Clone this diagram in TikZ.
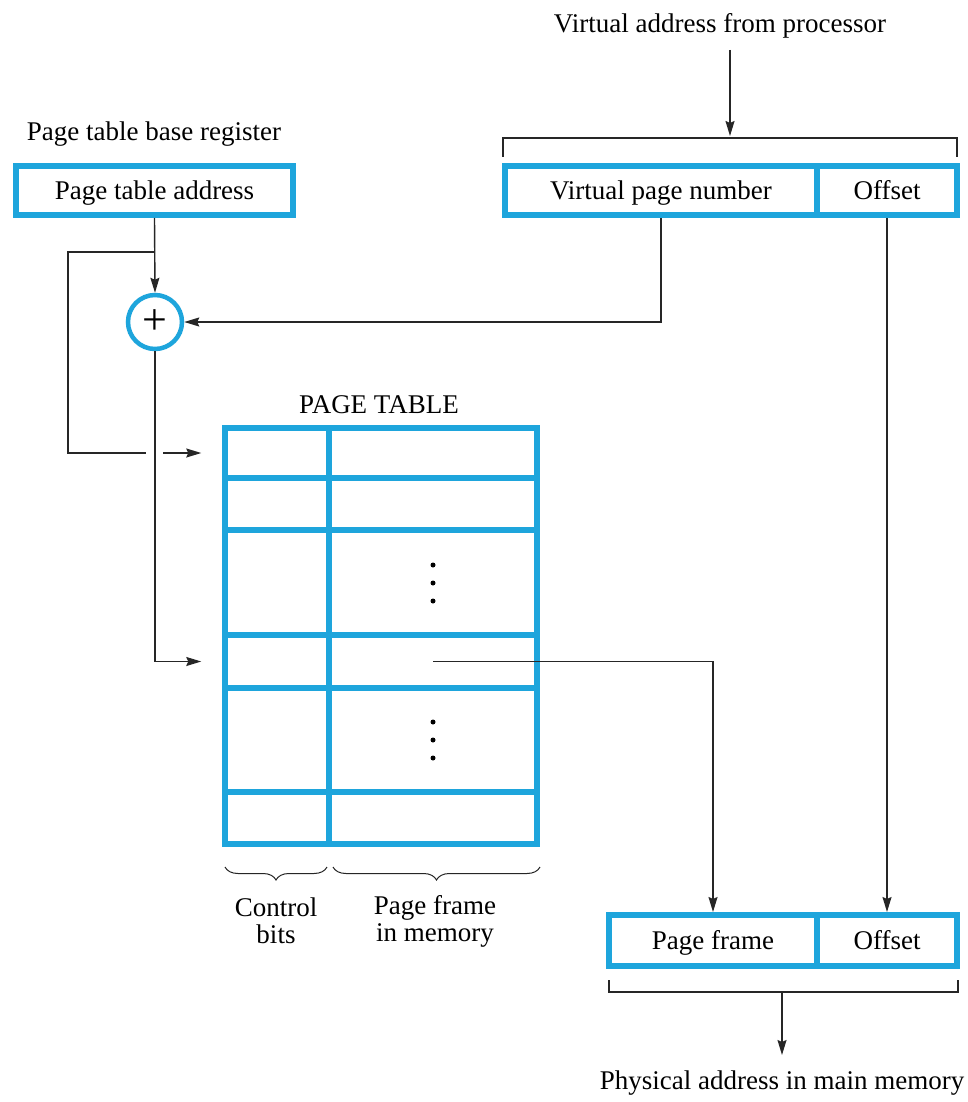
\documentclass[tikz,border=0pt]{standalone}
\usepackage{fontspec}
\setmainfont{Liberation Serif}
\usetikzlibrary{arrows.meta,decorations.pathreplacing,calc}
\definecolor{pblue}{RGB}{30,165,220}
\begin{document}
\begin{tikzpicture}[x=1pt,y=-1pt,
  every node/.style={font=\fontsize{27}{27}\selectfont, inner sep=0pt},
  onel/.style={text height=18pt, text depth=0pt},
  bluebox/.style={onel, draw=pblue, line width=6pt},
  cellbox/.style={draw=pblue, line width=5.5pt},
  adder/.style={circle, draw=pblue, line width=4.5pt, minimum size=54pt, inner sep=0pt, font=\fontsize{44}{44}\selectfont},
  conn/.style={draw=black!85, line width=1.4pt},
  arr/.style={conn, -{Stealth[length=15pt,width=9pt,inset=2pt]}},
  lbl/.style={align=center},
  brc/.style={draw=black!85, line width=1pt, decorate, decoration={brace, mirror, amplitude=13pt}}]
\useasboundingbox[fill=white] (0,0) rectangle (967,1102);

% texts
\node[onel] (vat) at (720,24) {Virtual address from processor};
\node[onel] (ptbr) at (154,132) {Page table base register};
\node[onel] (ptt) at (379,404) {PAGE TABLE};
\node[lbl] (cb) at (276,921) {Control\\bits};
\node[lbl] (pfm) at (435,921) {Page frame\\in memory};
\node[onel] (pa) at (782,1080) {Physical address in main memory};

% registers
\node[bluebox, minimum width=277pt, minimum height=49pt] (pta) at (154.5,190.5) {Page table address};
\node[bluebox, minimum width=312pt, minimum height=49pt] (vpn) at (661,190.5) {Virtual page number};
\node[bluebox, minimum width=140pt, minimum height=49pt] (off) at (887,190.5) {Offset};
\node[bluebox, minimum width=208pt, minimum height=51pt] (pf) at (713,940.5) {Page frame};
\node[bluebox, minimum width=140pt, minimum height=51pt] (off2) at (887,940.5) {Offset};

% adder
\node[adder] (add) at (155,322) {+};

% page table
\node[cellbox, minimum width=104pt, minimum height=50pt]  (c1) at (277,453) {};
\node[cellbox, minimum width=208pt, minimum height=50pt]  (f1) at (433,453) {};
\node[cellbox, minimum width=104pt, minimum height=52pt]  (c2) at (277,504) {};
\node[cellbox, minimum width=208pt, minimum height=52pt]  (f2) at (433,504) {};
\node[cellbox, minimum width=104pt, minimum height=105pt] (c3) at (277,582.5) {};
\node[cellbox, minimum width=208pt, minimum height=105pt] (f3) at (433,582.5) {};
\node[cellbox, minimum width=104pt, minimum height=53pt]  (c4) at (277,661.5) {};
\node[cellbox, minimum width=208pt, minimum height=53pt]  (f4) at (433,661.5) {};
\node[cellbox, minimum width=104pt, minimum height=104pt] (c5) at (277,740) {};
\node[cellbox, minimum width=208pt, minimum height=104pt] (f5) at (433,740) {};
\node[cellbox, minimum width=104pt, minimum height=52pt]  (c6) at (277,818) {};
\node[cellbox, minimum width=208pt, minimum height=52pt]  (f6) at (433,818) {};
\draw[pblue, line width=6pt] (225,428) rectangle (537,844);

% dots
\foreach \yy in {565,583,601,722,740,758} \fill (433,\yy) circle (2.5pt);

% braces
\draw[brc] (225,867) -- (327,867);
\draw[brc] (333,867) -- (540,867);

% coordinates
\coordinate (vt) at (730,50);
\coordinate (vb) at (730,136);
\coordinate (bl) at (503,157);
\coordinate (blt) at (503,138);
\coordinate (brt) at (957,138);
\coordinate (br) at (957,157);
\coordinate (pbl) at (609,980);
\coordinate (pblt) at (609,992);
\coordinate (pbrt) at (958,992);
\coordinate (pbr) at (958,980);
\coordinate (pbm) at (782,992);
\coordinate (pae) at (782,1055);
\coordinate (j1) at (155,252);
\coordinate (j2) at (68,252);
\coordinate (j3) at (68,453);
\coordinate (g1) at (146,453);
\coordinate (g2) at (163,453);

% connectors
\draw[arr] (vt) -- (vb);
\draw[conn] (bl) -- (blt) -- (brt) -- (br);
\draw[arr] (pta.south) -- (add.north);
\draw[conn] (j1) -- (j2) -- (j3) -- (g1);
\draw[arr] (g2) -- ([xshift=-21pt]c1.west);
\draw[arr] (vpn.south) |- (add.east);
\draw[arr] (add.south) |- ([xshift=-21pt]c4.west);
\draw[arr] (off.south) -- (off2.north);
\draw[arr] (f4.center) -| (pf.north);
\draw[conn] (pbl) -- (pblt) -- (pbrt) -- (pbr);
\draw[arr] (pbm) -- (pae);
\end{tikzpicture}
\end{document}
